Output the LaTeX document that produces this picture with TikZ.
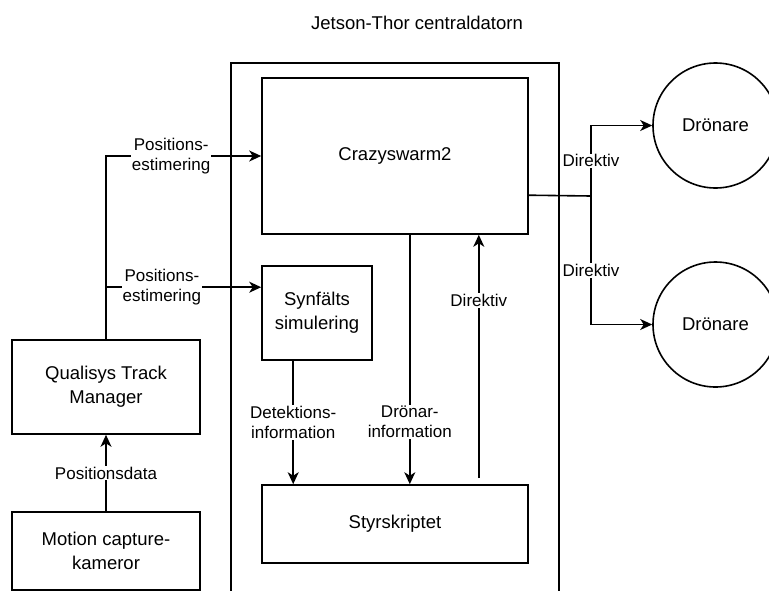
\documentclass[tikz,border=0pt]{standalone}
\usepackage{fontspec}
\setmainfont{Liberation Sans}
\usepackage{tikz}
\usetikzlibrary{arrows.meta}

\begin{document}
\begin{tikzpicture}[x=1pt,y=-1pt,line width=1.6pt,
  blk/.style={rectangle,draw,inner sep=0pt,align=center,font=\fontsize{18.5}{24}\selectfont},
  drone/.style={circle,draw,minimum size=125pt,inner sep=0pt,font=\fontsize{18.5}{24}\selectfont},
  lbl/.style={fill=white,inner sep=1pt,align=center,font=\fontsize{17}{20}\selectfont},
  arr/.style={-{Stealth[length=12pt,width=11pt,inset=3.5pt]}}]
\useasboundingbox (0,0) rectangle (769,590);
\clip (0,0) rectangle (769,590);

\node[font=\fontsize{18.5}{24}\selectfont] (title) at (417,23) {Jetson-Thor centraldatorn};
\node[draw,inner sep=0pt,minimum width=328pt,minimum height=560pt] (frame) at (395,343) {};
\node[blk,minimum width=266pt,minimum height=156pt] (crazy) at (395,156) {Crazyswarm2};
\node[blk,minimum width=110pt,minimum height=94pt] (synf) at (317,313) {Synfälts\\simulering};
\node[blk,minimum width=266pt,minimum height=78pt] (styr) at (395,524) {Styrskriptet};
\node[blk,minimum width=188pt,minimum height=94pt] (qtm) at (106,387) {Qualisys Track\\Manager};
\node[blk,minimum width=188pt,minimum height=78pt] (mocap) at (106,551) {Motion capture-\\kameror};
\node[drone] (d1) at (715.5,125.5) {Drönare};
\node[drone] (d2) at (715.5,324.5) {Drönare};

\draw[arr] (qtm.north) |- (crazy.west) node[lbl,pos=0.71] {Positions-\\estimering};
\draw[arr] (qtm.north) |- ([yshift=-22pt]synf.north west) node[lbl,pos=0.68] {Positions-\\estimering};
\draw[arr] (mocap.north) -- (qtm.south) node[lbl,midway] {Positionsdata};
\draw[arr] ([xshift=32pt]synf.south west) -- ([xshift=32pt]styr.north west) node[lbl,pos=0.5] {Detektions-\\information};
\draw[arr] ([xshift=-119pt]crazy.south east) -- ([xshift=-119pt]styr.north east) node[lbl,pos=0.75] {Drönar-\\information};
\draw[arr] ([xshift=-50pt,yshift=6pt]styr.north east) -- ([xshift=-50pt]crazy.south east) node[lbl,pos=0.73] {Direktiv};
\coordinate (split) at (591,196);
\draw ([yshift=-118pt]crazy.north east) -- (split);
\draw[arr] (split) |- (d1.west) node[lbl,pos=0.25] {Direktiv};
\draw[arr] (split) |- (d2.west) node[lbl,pos=0.29] {Direktiv};

\end{tikzpicture}
\end{document}
